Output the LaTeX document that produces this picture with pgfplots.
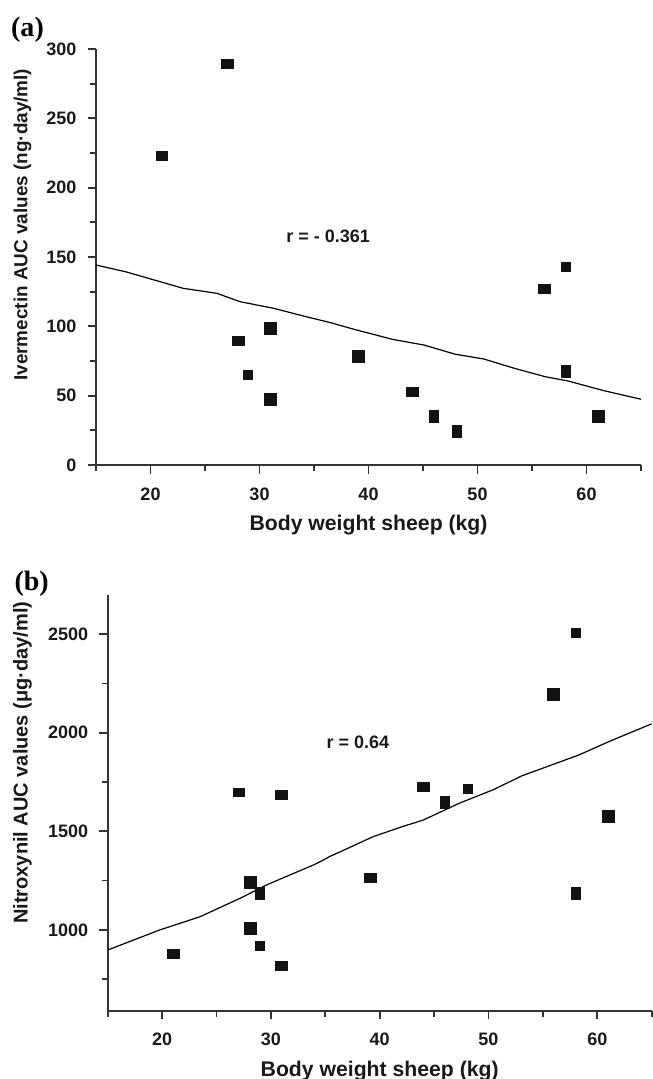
\documentclass[border=0pt]{standalone}
\usepackage{fontspec}
\setmainfont{Liberation Sans}
\newfontfamily\tnr{Liberation Serif}
\usepackage{pgfplots}
\pgfplotsset{compat=1.18}
\definecolor{ax}{gray}{0.2}
\definecolor{mk}{gray}{0.07}

\pgfplotsset{
  myaxis/.style={
    scale only axis, width=272.5pt, height=208pt,
    axis lines=left, axis line style={-, ax, line width=0.85pt},
    tick style={ax, line width=0.85pt},
    tick align=outside,
    major tick length=4.25pt, minor tick length=3pt,
    xmin=15, xmax=65, xtick={20,30,40,50,60}, xticklabels={20,30,40,50,60},
    minor xtick={15,25,35,45,55,65},
    ticklabel style={font=\fontsize{9}{10}\selectfont\bfseries, text=black!90},
    xticklabel style={yshift=-3.5pt},
    yticklabel style={xshift=-2pt},
    clip=false,
  },
  sqbase/.style={only marks, mark=square*, mark size=2.25pt, color=mk},
  sqA/.style={sqbase, mark options={draw=none, fill=mk}},
  sqB/.style={sqbase, mark options={draw=none, fill=mk, xscale=1.333}},
  sqC/.style={sqbase, mark options={draw=none, fill=mk, yscale=1.333}},
  sqD/.style={sqbase, mark options={draw=none, fill=mk, scale=1.333}},
  sqE/.style={sqbase, mark options={draw=none, fill=mk, xscale=1.22, yscale=0.944}},
  trend/.style={black, line width=0.6pt, no marks, sharp plot},
}

\begin{document}
\begin{tikzpicture}
\path[use as bounding box] (0,0) rectangle (326pt,-539.5pt);

\node[font=\tnr\bfseries\fontsize{14}{16}\selectfont] at (13.75pt,-15pt) {(a)};
\node[font=\tnr\bfseries\fontsize{14}{16}\selectfont] at (15.85pt,-291.75pt) {(b)};

% ---------- panel (a) ----------
\begin{axis}[myaxis, at={(48pt,-232.5pt)}, anchor=south west,
  ymin=0, ymax=300, ytick={0,50,100,150,200,250,300},
  yticklabels={0,50,100,150,200,250,300},
  minor ytick={25,75,125,175,225,275},
  every axis x label/.style={at={(axis description cs:0.5,-0.158)}, anchor=base,
     font=\fontsize{10.6}{12}\selectfont\bfseries, text=black!90},
  every axis y label/.style={at={(axis description cs:-0.1349,0.5777)}, rotate=90, anchor=center,
     font=\fontsize{9.45}{11}\selectfont\bfseries, text=black!90},
  xlabel={Body weight sheep (kg)},
  ylabel={Ivermectin AUC values (ng·day/ml)},
]
\addplot[trend] coordinates {(15,144.2) (17.7,139.4) (23.0,127.4) (26.1,123.8) (28.2,117.8)
  (31.3,113) (34.3,106.9) (36.4,102.9) (38.7,97.8) (42.2,90.6) (45.1,86.5) (47.9,80)
  (50.6,76.4) (53.4,69.7) (56.2,63.7) (58.3,60.6) (61.6,53.6) (65,47.4)};
\addplot[sqA] coordinates {(28.9,64.9) (58.1,142.8)};
\addplot[sqB] coordinates {(27.1,288.9) (28.1,89.4) (44.06,52.4) (56.1,126.7)};
\addplot[sqE] coordinates {(21.07,223)};
\addplot[sqC] coordinates {(46,35.1) (48.1,24.5) (58.1,67.8)};
\addplot[sqD] coordinates {(31,98.5) (31,47.1) (39.1,78.1) (61.1,35.1)};
\node[font=\fontsize{9}{10}\selectfont\bfseries, text=black!90] at (axis cs:36.3,165) {r = - 0.361};
\end{axis}

% ---------- panel (b) ----------
\begin{axis}[myaxis, at={(53.85pt,-505.35pt)}, anchor=south west,
  width=272pt,
  ymin=590, ymax=2700, ytick={1000,1500,2000,2500},
  yticklabels={1000,1500,2000,2500},
  minor ytick={750,1250,1750,2250},
  every axis x label/.style={at={(axis description cs:0.5,-0.157)}, anchor=base,
     font=\fontsize{10.6}{12}\selectfont\bfseries, text=black!90},
  every axis y label/.style={at={(axis description cs:-0.1566,0.5962)}, rotate=90, anchor=center,
     font=\fontsize{10}{12}\selectfont\bfseries, text=black!90},
  xlabel={Body weight sheep (kg)},
  ylabel={Nitroxynil AUC values (μg·day/ml)},
]
\addplot[trend] coordinates {(15.05,899) (19.8,1000) (23.5,1067) (27.2,1161) (29.6,1228)
  (33.9,1329) (34.5,1345) (35.4,1372) (36.6,1402) (39.4,1473) (42.1,1524) (44,1557)
  (47.3,1642) (50.4,1710) (53.1,1782) (58.3,1887) (61.4,1963) (65,2045)};
\addplot[sqA] coordinates {(58.0,2507) (48.1,1713) (29.0,919)};
\addplot[sqB] coordinates {(31.0,1683) (44.0,1726) (21.0,877) (31.0,818) (39.1,1265)};
\addplot[sqE] coordinates {(27.05,1698)};
\addplot[sqC] coordinates {(46.0,1647) (29.0,1186) (58.0,1184)};
\addplot[sqD] coordinates {(56.0,2196) (61.0,1574) (28.1,1242) (28.1,1009)};
\node[font=\fontsize{9}{10}\selectfont\bfseries, text=black!90] at (axis cs:38.0,1951) {r = 0.64};
\end{axis}
\end{tikzpicture}
\end{document}
